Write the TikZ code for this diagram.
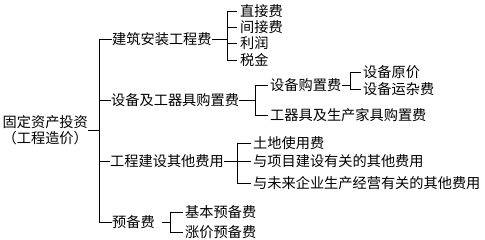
\documentclass[tikz,border=0pt]{standalone}
\usepackage{fontspec}
\setmainfont{Noto Sans CJK SC}
\begin{document}
\begin{tikzpicture}[x=1pt,y=-1pt,
  lbl/.style={anchor=west,inner sep=0pt,font=\fontsize{14.2}{16.5}\selectfont},
  ln/.style={line width=0.8pt,black}]
\useasboundingbox (0,0) rectangle (485,240);
% root
\node[lbl,align=center] (root) at (2.5,130) {固定资产投资\\（工程造价）};
% level 1
\node[lbl] (a) at (112,39) {建筑安装工程费};
\node[lbl] (b) at (111,100) {设备及工器具购置费};
\node[lbl] (c) at (110,161) {工程建设其他费用};
\node[lbl] (d) at (112,222) {预备费};
% level 2
\node[lbl] (a1) at (240,11) {直接费};
\node[lbl] (a2) at (240,27) {间接费};
\node[lbl] (a3) at (240,43.5) {利润};
\node[lbl] (a4) at (240,60) {税金};
\node[lbl] (b1) at (270,85) {设备购置费};
\node[lbl] (b2) at (270,115) {工器具及生产家具购置费};
\node[lbl] (b11) at (363,72.5) {设备原价};
\node[lbl] (b12) at (363,89.5) {设备运杂费};
\node[lbl] (c1) at (253,143) {土地使用费};
\node[lbl] (c2) at (253,161.5) {与项目建设有关的其他费用};
\node[lbl] (c3) at (253,183) {与未来企业生产经营有关的其他费用};
\node[lbl] (d1) at (185,212) {基本预备费};
\node[lbl] (d2) at (185,232) {涨价预备费};
% bracket x positions
\coordinate (sp) at (99,0);
\coordinate (ba) at (227,0);
\coordinate (bb) at (255,0);
\coordinate (bc) at (350,0);
\coordinate (bcc) at (237,0);
\coordinate (bd) at (170,0);
% spine
\draw[ln] (root.east) -- (sp |- root.east);
\draw[ln] (sp |- a.west) -- (sp |- d.west);
\foreach \n in {a,b,c,d} \draw[ln] (sp |- \n.west) -- (\n.west);
% a
\draw[ln] (a.east) -- (ba |- a.east);
\draw[ln] (ba |- a1.west) -- (ba |- a4.west);
\foreach \n in {a1,a2,a3,a4} \draw[ln] (ba |- \n.west) -- ([xshift=-3pt]\n.west);
% b
\draw[ln] (b.east) -- (bb |- b.east);
\draw[ln] (bb |- b1.west) -- (bb |- b2.west);
\foreach \n in {b1,b2} \draw[ln] (bb |- \n.west) -- ([xshift=-2pt]\n.west);
\draw[ln] ([xshift=1pt]b1.east) -- (bc |- b1.east);
\draw[ln] (bc |- b11.west) -- (bc |- b12.west);
\foreach \n in {b11,b12} \draw[ln] (bc |- \n.west) -- ([xshift=-2pt]\n.west);
% c
\draw[ln] (c.east) -- (bcc |- c.east);
\draw[ln] (bcc |- c1.west) -- (bcc |- c3.west);
\foreach \n in {c1,c2,c3} \draw[ln] (bcc |- \n.west) -- ([xshift=-2pt]\n.west);
% d
\draw[ln] ([xshift=7pt]d.east) -- (bd |- d.east);
\draw[ln] (bd |- d1.west) -- (bd |- d2.west);
\foreach \n in {d1,d2} \draw[ln] (bd |- \n.west) -- ([xshift=-2pt]\n.west);
\end{tikzpicture}
\end{document}
